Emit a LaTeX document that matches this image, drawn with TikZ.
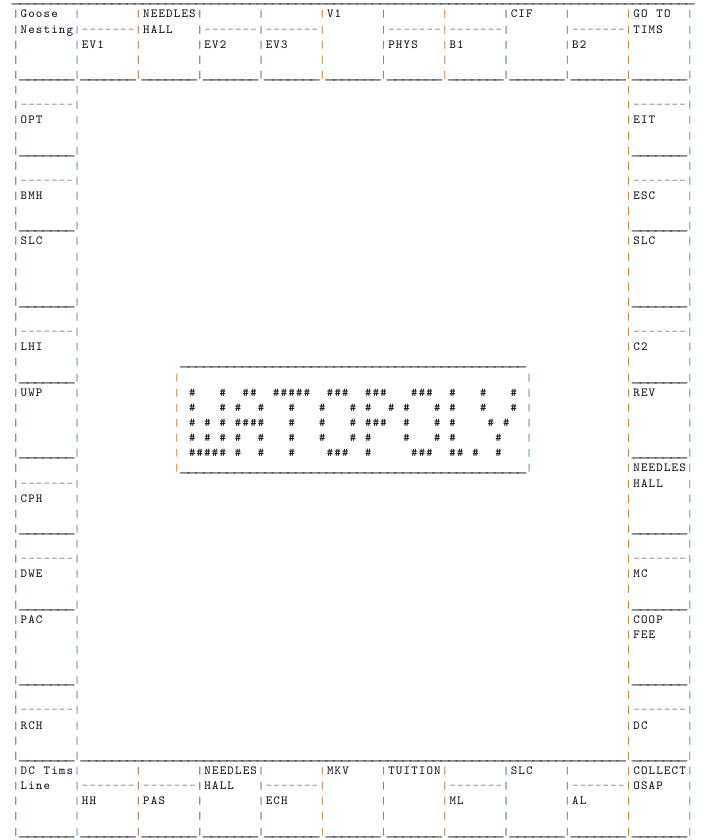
\documentclass[tikz,border=0pt]{standalone}
\usepackage{fontspec}
\definecolor{ink}{HTML}{141420}
\definecolor{rulegray}{HTML}{333333}
\definecolor{dashgray}{HTML}{8E8E8E}
\definecolor{bar0}{HTML}{9C3B28}
\definecolor{bar8}{HTML}{3D8FD1}
\definecolor{bar16}{HTML}{B0622E}
\definecolor{bar24}{HTML}{5A4A9A}
\definecolor{bar32}{HTML}{3F7F3A}
\definecolor{bar40}{HTML}{D07A2A}
\definecolor{bar48}{HTML}{3C8AD0}
\definecolor{bar56}{HTML}{C9702A}
\definecolor{bar64}{HTML}{2E5FA8}
\definecolor{bar72}{HTML}{3A7EC5}
\definecolor{bar80}{HTML}{D07B28}
\definecolor{bar88}{HTML}{3C92D6}
\newcommand\colw{5.744pt}
\newcommand\cells[1]{\cellsi#1\relax}
\def\cellsi#1{\ifx#1\relax\else\makebox[\colw]{#1}\expandafter\cellsi\fi}
\newcommand\rep[2]{\foreach\k in {1,...,#1}{\makebox[\colw]{#2}}}
\newcommand\us{\scalebox{1.7}[1]{\_}}
\begin{document}
\begin{tikzpicture}[x=5.744pt,y=-11.3475pt,
    lbl/.style={anchor=base west,inner sep=0pt,text=ink,font=\fontsize{9.3}{9}\ttfamily},
    dashes/.style={lbl,text=dashgray},
    unders/.style={anchor=base west,inner sep=0pt,text=rulegray,font=\fontsize{10.94}{11}\ttfamily},
    bar/.style={anchor=base,inner sep=0pt,font=\fontsize{8}{8}\ttfamily\bfseries},
    hash/.style={anchor=base,inner sep=0pt,text=ink,font=\fontsize{9}{9}\ttfamily\bfseries}]
  \useasboundingbox (-2.089,0.042) rectangle (90.87,55.56);

  \node[unders] (top) at (-.5,.23) {\rep{89}{\us}};
  \foreach \l in {5,55}
    \foreach \k in {0,...,10}
      \node[unders] (rule-\k-\l) at (8*\k+.5,\l+.23) {\rep{7}{\us}};
  \foreach \l in {10,15,...,50}
    \foreach \c in {1,81}
      \node[unders] (rule-\c-\l) at (\c-.5,\l+.23) {\rep{7}{\us}};
  \node[unders] (bottom) at (8.5,50.23) {\rep{71}{\us}};

  \foreach \c/\bc in {0/bar0,8/bar8,16/bar16,24/bar24,32/bar32,40/bar40,
                      48/bar48,56/bar56,64/bar64,72/bar72,80/bar80,88/bar88} {
    \foreach \l in {1,...,5}
      \node[bar,text=\bc] (bar-\c-\l) at (\c,\l+.23) {|};
    \foreach \l in {51,...,55}
      \node[bar,text=\bc] (bar-\c-\l) at (\c,\l+.23) {|};
  }
  \foreach \c/\bc in {0/bar0,8/bar8,80/bar80,88/bar88}
    \foreach \l in {6,...,50}
      \node[bar,text=\bc] (bar-\c-\l) at (\c,\l+.23) {|};

  \foreach \c/\l in {9/2,25/2,33/2,49/2,57/2,73/2,
                     1/7,1/12,1/22,1/32,1/37,1/47,
                     81/7,81/12,81/22,81/37,81/47,
                     9/52,17/52,33/52,57/52,73/52}
    \node[dashes] (dash-\c-\l) at (\c-.5,\l+.23) {\rep{7}{-}};

  \foreach \c/\l/\t [count=\n] in {
      1/1/Goose, 1/2/Nesting, 9/3/EV1, 17/1/NEEDLES, 17/2/HALL, 25/3/EV2,
      33/3/EV3, 41/1/V1, 49/3/PHYS, 57/3/B1, 65/1/CIF, 73/3/B2,
      81/1/GO~TO, 81/2/TIMS,
      1/8/OPT, 1/13/BMH, 1/16/SLC, 1/23/LHI, 1/26/UWP, 1/33/CPH,
      1/38/DWE, 1/41/PAC, 1/48/RCH,
      81/8/EIT, 81/13/ESC, 81/16/SLC, 81/23/C2, 81/26/REV, 81/31/NEEDLES,
      81/32/HALL, 81/38/MC, 81/41/COOP, 81/42/FEE, 81/48/DC,
      1/51/DC~Tims, 1/52/Line, 9/53/HH, 17/53/PAS, 25/51/NEEDLES,
      25/52/HALL, 33/53/ECH, 41/51/MKV, 49/51/TUITION, 57/53/ML,
      65/51/SLC, 73/53/AL, 81/51/COLLECT, 81/52/OSAP}
    \node[lbl] (sq-\n) at (\c-.5,\l+.23) {\expandafter\cells\expandafter{\t}};

  \foreach \l in {24,31}
    \node[unders] (logo-\l) at (21.5,\l+.23) {\rep{45}{\us}};
  \foreach \c/\bc in {21/bar40,67/bar48}
    \foreach \l in {25,...,31}
      \node[bar,text=\bc] (bar-\c-\l) at (\c,\l+.23) {|};
  \foreach \l/\cols in {
      26/{1,5,8,9,12,13,14,15,16,19,20,21,24,25,26,30,31,32,35,39,43},
      27/{1,5,7,10,14,18,22,24,27,29,33,35,39,43},
      28/{1,3,5,7,8,9,10,14,18,22,24,25,26,29,33,35,40,42},
      29/{1,3,5,7,10,14,18,22,24,29,33,35,41},
      30/{1,2,3,4,5,7,10,14,19,20,21,24,30,31,32,35,36,38,41}}
    \foreach \c in \cols
      \node[hash] (hash-\l-\c) at (22+\c,\l+.23) {\#};
\end{tikzpicture}
\end{document}
